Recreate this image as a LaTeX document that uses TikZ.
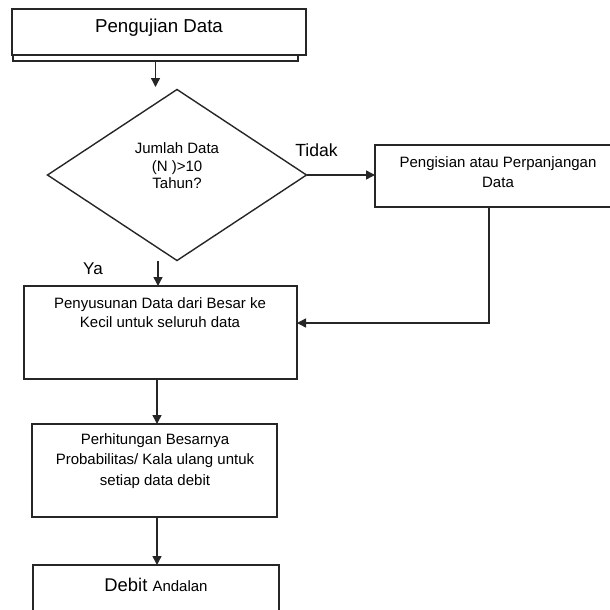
\documentclass[tikz,border=0pt]{standalone}
\usepackage{fontspec}
\setmainfont{Liberation Sans}
\usetikzlibrary{shapes.geometric,arrows.meta}
\definecolor{linec}{gray}{0.15}
\begin{document}
\begin{tikzpicture}[x=1pt,y=-1pt,
  box/.style={draw=linec, line width=1.4pt, rectangle, inner sep=0pt, outer sep=0pt},
  dia/.style={draw=linec, line width=1.4pt, diamond, inner sep=0pt, outer sep=0pt},
  txt/.style={inner sep=0pt, align=center, font=\fontsize{15}{20}\selectfont, text=black},
  arr/.style={draw=linec, line width=1.4pt, -{Triangle[length=9pt,width=9pt]}},
  ln/.style={draw=linec, line width=1.4pt}]
\useasboundingbox (0,0) rectangle (610,610);
\clip (0,0) rectangle (610,610);

% top box with shadow strip
\node[box, minimum width=285pt, minimum height=6pt] (b0s) at (155.5,58) {};
\node[box, fill=white, minimum width=294pt, minimum height=46pt] (b0) at (159,32) {};
\node[txt, font=\fontsize{18.7}{22}\selectfont] (t0) at (159,28) {Pengujian Data};
\draw[arr] (b0s.south) -- ++(0,26) coordinate (a0);

% decision
\node[dia, minimum width=259pt, minimum height=171pt] (d) at (177,175) {};
\node[txt, font=\fontsize{15}{17.5}\selectfont] (dt) at (177,166) {Jumlah Data\\(N )>10\\Tahun?};
\node[txt, font=\fontsize{17.6}{20}\selectfont] (tidak) at (316.5,150) {Tidak};

% right box
\node[box, minimum width=245pt, minimum height=62pt] (p) at (497.5,176) {};
\node[txt] (pt) at (498,172) {Pengisian atau Perpanjangan\\Data};
\draw[arr] (d.east) -- (p.west |- d.east);

% sorting box
\node[box, minimum width=273pt, minimum height=93pt] (s) at (160.5,332.5) {};
\node[txt, font=\fontsize{15}{19}\selectfont] (st) at (160,312.5) {Penyusunan Data dari Besar ke\\Kecil untuk seluruh data};
\draw[arr] ([xshift=-8.5pt]p.south) |- ([yshift=9.5pt]s.east);

\coordinate (ya0) at (158,261);
\draw[arr] (ya0) -- (ya0 |- s.north);
\node[txt, font=\fontsize{17}{20}\selectfont] (ya) at (93,269) {Ya};

% probability box
\node[box, minimum width=245pt, minimum height=93pt] (r) at (154.5,470.5) {};
\node[txt, font=\fontsize{15}{20.5}\selectfont] (rt) at (155,461) {Perhitungan Besarnya\\Probabilitas/ Kala ulang untuk\\setiap data debit};
\coordinate (s2) at ([xshift=-3.5pt]s.south);
\draw[arr] (s2) -- (s2 |- r.north);

% final box
\node[box, minimum width=246pt, minimum height=75pt] (e) at (156,602.5) {};
\node[txt] (et) at (156,585) {\fontsize{18.4}{20}\selectfont Debit \fontsize{15}{20}\selectfont Andalan};
\coordinate (r2) at ([xshift=2.5pt]r.south);
\draw[arr] (r2) -- (r2 |- e.north);
\end{tikzpicture}
\end{document}
